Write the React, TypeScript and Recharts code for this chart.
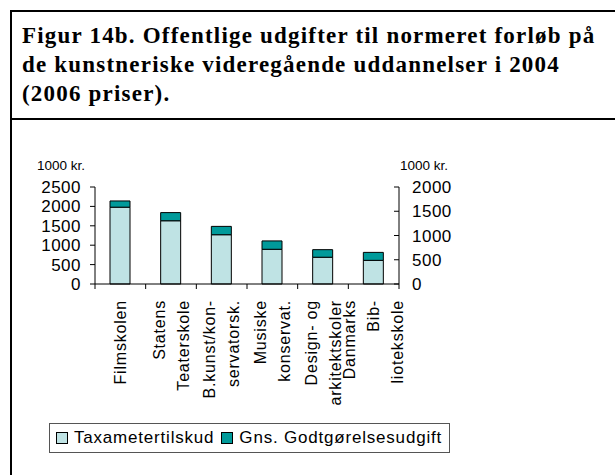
import React from 'react'
import { Bar, ComposedChart, Line, XAxis, YAxis } from 'recharts'

// uddannelser (linjeskift = ny linje i akselabel)
const CATEGORIES = [
  'Filmskolen',
  'Statens\nTeaterskole',
  'B.kunst/kon-\nservatorsk.',
  'Musiske\nkonservat.',
  'Design- og\narkitektskoler',
  'Danmarks\nBib-\nliotekskole',
]
const TAXAMETER = [1980, 1630, 1270, 895, 690, 610]
const GODTGOERELSE = [160, 210, 215, 215, 195, 205]

const LEFT_TICKS = [0, 500, 1000, 1500, 2000, 2500]
const RIGHT_TICKS = [0, 500, 1000, 1500, 2000]

const TITLE = [
  'Figur 14b. Offentlige udgifter til normeret forløb på',
  'de kunstneriske videregående uddannelser i 2004',
  '(2006 priser).',
]

const LIGHT = '#bfe3e4'
const DARK = '#009a9a'
const FONT = '"Liberation Sans", Arial, sans-serif'

const data = CATEGORIES.map((c, i) => ({
  name: c,
  taxameter: TAXAMETER[i],
  godt: GODTGOERELSE[i],
}))

// roteret label med flere linjer + tickstreger på kategorigrænserne
function CatTick({
  x,
  y,
  index,
  visibleTicksCount,
  payload,
}: {
  x?: number
  y?: number
  index?: number
  visibleTicksCount?: number
  payload?: { value: string; offset?: number }
}) {
  const cx = x ?? 0
  const cy = y ?? 0
  const half = payload?.offset ?? 0
  const lines = (payload?.value ?? '').split('\n')
  const step = 24
  const start = -((lines.length - 1) * step) / 2
  const isLast = index === (visibleTicksCount ?? 0) - 1
  return (
    <g>
      <line x1={cx - half} x2={cx - half} y1={cy} y2={cy + 5} stroke="#000" />
      {isLast && <line x1={cx + half} x2={cx + half} y1={cy} y2={cy + 5} stroke="#000" />}
      {lines.map((l, i) => (
        <text
          key={i}
          transform={`translate(${cx + start + i * step}, ${cy + 16}) rotate(-90)`}
          textAnchor="end"
          dominantBaseline="central"
          fontSize={16}
          letterSpacing={0.8}
          fontFamily={FONT}
          fill="#000"
        >
          {l}
        </text>
      ))}
    </g>
  )
}

function LegendBox() {
  const item = (color: string, label: string) => (
    <span style={{ display: 'inline-flex', alignItems: 'center', marginRight: 7 }}>
      <span
        style={{
          display: 'inline-block',
          width: 10,
          height: 10,
          background: color,
          border: '1px solid #000',
          marginRight: 6,
        }}
      />
      {label}
    </span>
  )
  return (
    <div
      style={{
        position: 'absolute',
        left: 49,
        top: 423,
        border: '1px solid #555',
        display: 'inline-flex',
        padding: '4px 0 4px 6px',
        fontFamily: FONT,
        fontSize: 17,
        letterSpacing: 0.8,
        lineHeight: '20px',
        whiteSpace: 'nowrap',
        background: '#fff',
      }}
    >
      {item(LIGHT, 'Taxametertilskud')}
      {item(DARK, 'Gns. Godtgørelsesudgift')}
    </div>
  )
}

export default function App() {
  return (
    <div
      style={{
        position: 'absolute',
        left: 0,
        top: 0,
        width: 615,
        height: 475,
        background: '#fff',
        overflow: 'hidden',
      }}
    >
      {/* rammen */}
      <div style={{ position: 'absolute', left: 10, top: 10, width: 605, height: 0, borderTop: '2px solid #000' }} />
      <div style={{ position: 'absolute', left: 10, top: 10, width: 0, height: 465, borderLeft: '2px solid #000' }} />
      <div style={{ position: 'absolute', left: 10, top: 118, width: 605, height: 0, borderTop: '2px solid #000' }} />

      <div
        style={{
          position: 'absolute',
          left: 22,
          top: 21,
          fontFamily: '"Liberation Serif", "Times New Roman", serif',
          fontWeight: 'bold',
          fontSize: 23,
          letterSpacing: 1.2,
          lineHeight: '29px',
          whiteSpace: 'nowrap',
        }}
      >
        {TITLE.map((t) => (
          <div key={t}>{t}</div>
        ))}
      </div>

      <div style={{ position: 'absolute', left: 37, top: 158, fontFamily: FONT, fontSize: 13.5 }}>1000 kr.</div>
      <div style={{ position: 'absolute', left: 400, top: 158, fontFamily: FONT, fontSize: 13.5 }}>1000 kr.</div>

      <div style={{ position: 'absolute', left: 0, top: 0 }}>
        <ComposedChart
          width={615}
          height={475}
          data={data}
          margin={{ top: 187, right: 156, left: 35, bottom: 75 }}
          barSize={20}
        >
          <XAxis
            dataKey="name"
            height={116}
            interval={0}
            stroke="#000"
            tickLine={false}
            tickSize={0}
            tickMargin={0}
            tick={<CatTick />}
          />
          <YAxis
            yAxisId="left"
            domain={[0, 2500]}
            ticks={LEFT_TICKS}
            interval={0}
            width={60}
            tickSize={5}
            tickMargin={9}
            stroke="#000"
            tick={{ fontSize: 17, fill: '#000', fontFamily: FONT, letterSpacing: 0.5 }}
          />
          <YAxis
            yAxisId="right"
            orientation="right"
            domain={[0, 2000]}
            ticks={RIGHT_TICKS}
            interval={0}
            width={60}
            tickSize={-5}
            tickMargin={18}
            stroke="#000"
            tick={{ fontSize: 17, fill: '#000', fontFamily: FONT, letterSpacing: 0.5 }}
          />
          <Bar
            yAxisId="left"
            dataKey="taxameter"
            stackId="a"
            fill={LIGHT}
            stroke="#000"
            strokeWidth={1}
            isAnimationActive={false}
          />
          <Bar
            yAxisId="left"
            dataKey="godt"
            stackId="a"
            fill={DARK}
            stroke="#000"
            strokeWidth={1}
            isAnimationActive={false}
          />
          {/* usynlig serie, så højre akse får sin skala */}
          <Line
            yAxisId="right"
            dataKey="taxameter"
            stroke="none"
            dot={false}
            activeDot={false}
            legendType="none"
            isAnimationActive={false}
          />
        </ComposedChart>
      </div>
      <LegendBox />
    </div>
  )
}
